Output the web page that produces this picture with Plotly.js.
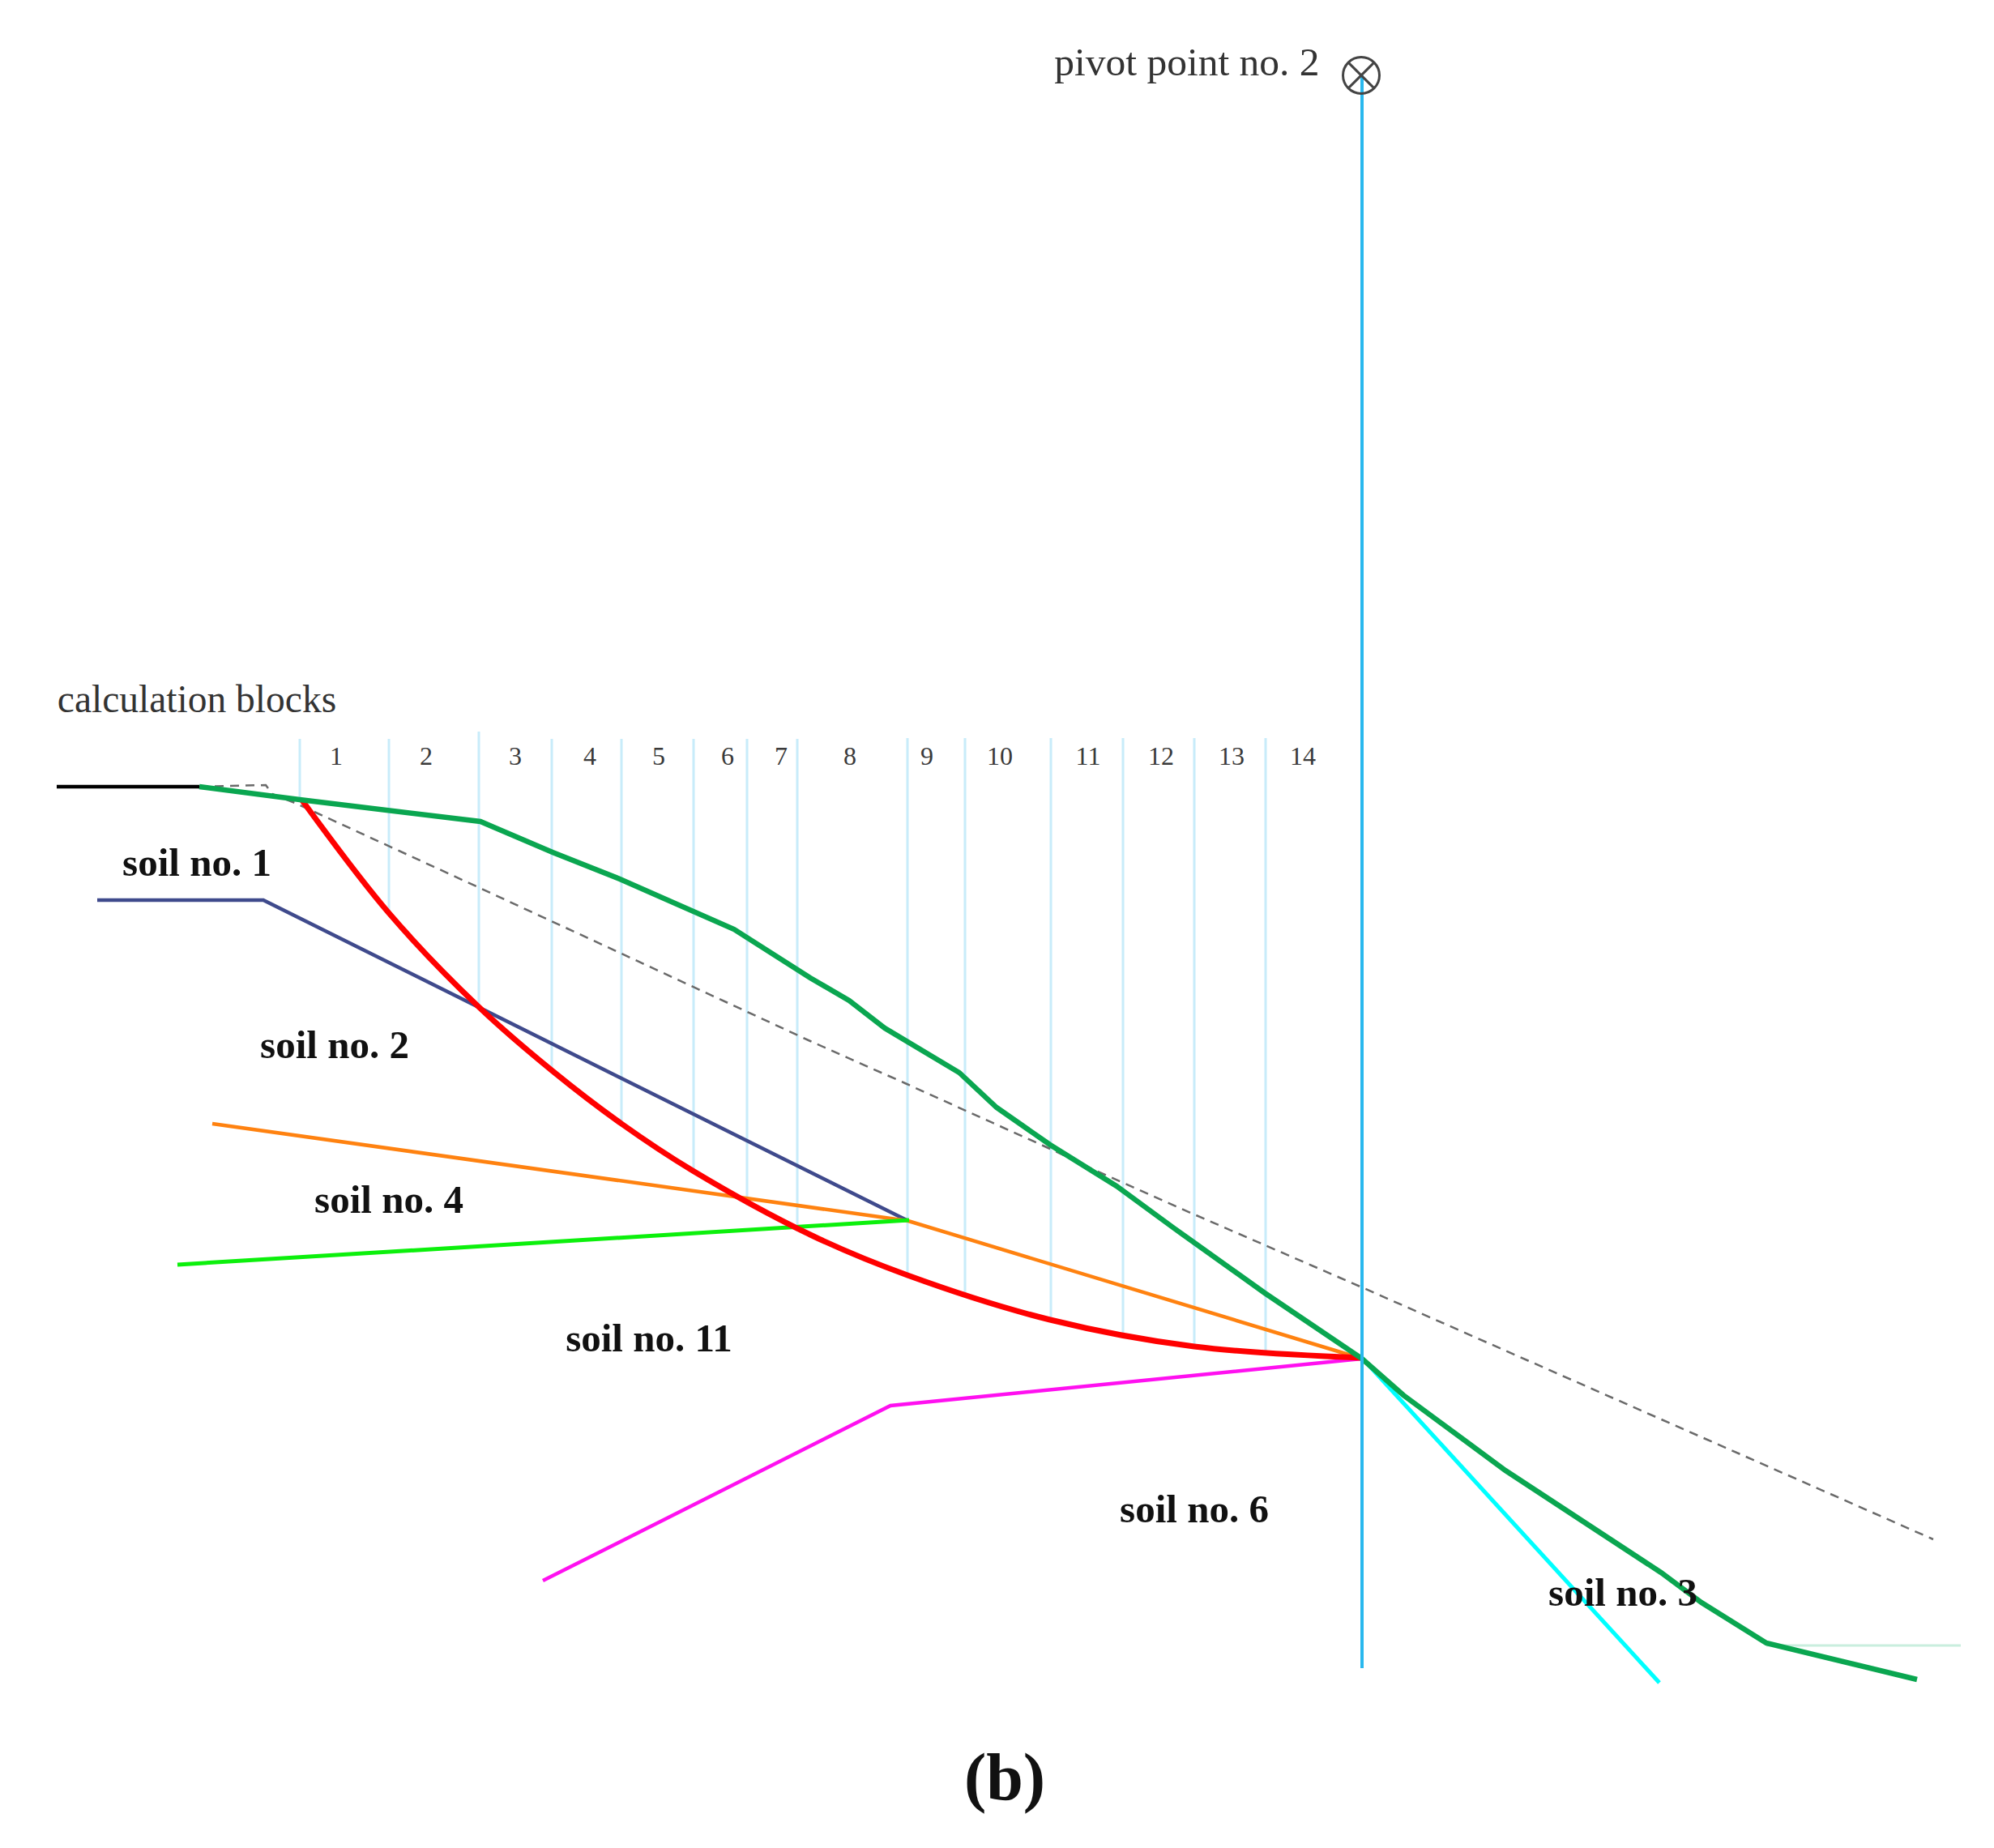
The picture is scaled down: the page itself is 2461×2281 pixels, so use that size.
<!DOCTYPE html>
<html><head><meta charset="utf-8">
<script src="https://cdn.plot.ly/plotly-3.0.1.min.js"></script>
<style>html,body{margin:0;padding:0;background:#fff}#c{width:2461px;height:2281px}</style>
</head><body><div id="c"></div>
<script>
const blockX = [370,480,591,681,767,856,922,984,1120,1191,1297,1386,1474,1562];
const blockTop = [912,912,903,912,912,912,912,912,911,911,911,911,911,911];
const blockBottom = [988,1125,1242,1321,1387,1447,1488,1520,1574,1599,1629,1648,1662,1672];
const blockLabels = ['1','2','3','4','5','6','7','8','9','10','11','12','13','14'];
const blockLabelX = [415,526,636,728,813,898,964,1049,1144,1234,1343,1433,1520,1608];
const blockLabelY = [936,936,936,936,936,936,936,936,936,936,936,936,936,936];

const terrainX = [246,370,593,682,765,906,1000,1048,1092,1184,1230,1296,1378,1449,1561,1681,1732,1858,2050,2100,2180,2366];
const terrainY = [971,987,1014,1052,1085,1147,1207,1235,1269,1324,1367,1413,1464,1516,1596,1677,1722,1815,1941,1978,2028,2073];
const crestX = [70,246];
const crestY = [971,971];
const toeX = [2180,2420];
const toeY = [2031,2031];
const dashX = [246,328,336,364,590,922,1000,1117,1296,1357,1474,1681,2386];
const dashY = [971,969,980,991,1095,1249,1285,1337,1418,1447,1499,1589,1900];
const slipX = [373,480,590,682,767,855,1000,1120,1296,1474,1681];
const slipY = [988,1127,1242,1322,1387,1445,1524,1574,1629,1662,1676];
const soil1X = [120,325,1121];
const soil1Y = [1111,1111,1507];
const soil2X = [262,1121,1681];
const soil2Y = [1387,1507,1677];
const soil4X = [219,1122];
const soil4Y = [1561,1506];
const soil11X = [670,1099,1681];
const soil11Y = [1951,1735,1677];
const soil6X = [1681,2048];
const soil6Y = [1676,2077];
const axisX = [1681,1681];
const axisY = [93,2059];
const pivotX = [1680];
const pivotY = [93];
const soilLabels = ['soil no. 1','soil no. 2','soil no. 4','soil no. 11','soil no. 6'];
const soilLabelX = [243,413,480,801,1474];
const soilLabelY = [1069,1294,1485,1656,1867];
const noteLabels = ['calculation blocks','pivot point no. 2'];
const noteX = [243,1465];
const noteY = [867,81];

function line(x,y,color,width,extra){
  return {x:x,y:y,mode:'lines',hoverinfo:'skip',line:Object.assign({color:color,width:width},extra||{})};
}
function text(x,y,t,size,color,bold){
  return {x:x,y:y,mode:'text',text:t.map(s=>bold?'<b>'+s+'</b>':s),textposition:'middle center',hoverinfo:'skip',
    textfont:{family:'"Liberation Serif", serif',size:size,color:color}};
}
const traces = [];
blockX.forEach((bx,i)=>{ traces.push(line([bx,bx],[blockTop[i],blockBottom[i]],'#c8ecfa',3)); });
traces.push(line(dashX,dashY,'#6a6a6a',2.5,{dash:'11px,8px'}));
traces.push(line(soil1X,soil1Y,'#3f4a8c',4.5));
traces.push(line(soil2X,soil2Y,'#ff8210',4.5));
traces.push(line(soil4X,soil4Y,'#0cf00c',5));
traces.push(line(soil11X,soil11Y,'#ff10f0',4.5));
traces.push(line(slipX,slipY,'#ff0000',7,{shape:'spline',smoothing:1}));
traces.push(line(toeX,toeY,'#c9eede',3));
traces.push(line(soil6X,soil6Y,'#00ffff',5));
traces.push(line(terrainX,terrainY,'#0aa650',6.5));
traces.push(line(crestX,crestY,'#000000',4.5));
traces.push(line(axisX,axisY,'#29b8ee',4));
traces.push({x:pivotX,y:pivotY,mode:'markers',hoverinfo:'skip',
  marker:{symbol:'circle-x-open',size:45,color:'#444444',line:{color:'#444444',width:3}}});
traces.push(text(blockLabelX,blockLabelY,blockLabels,32,'#3a3a3a',false));
traces.push(text(soilLabelX,soilLabelY,soilLabels,49,'#111111',true));
traces.push(text([2003],[1970],['soil no. 3'],49,'#111111',true));
traces.push(text(noteX,noteY,noteLabels,[47.5,49.5],'#333333',false));
traces.push(text([1240],[2200],['(b)'],82,'#111111',true));

const layout = {
  width:2461,height:2281,showlegend:false,
  margin:{l:0,r:0,t:0,b:0,pad:0},
  paper_bgcolor:'#ffffff',plot_bgcolor:'#ffffff',
  xaxis:{range:[0,2461],visible:false,fixedrange:true},
  yaxis:{range:[2281,0],visible:false,fixedrange:true}
};
Plotly.newPlot('c',traces,layout,{staticPlot:true,displayModeBar:false});
</script></body></html>
